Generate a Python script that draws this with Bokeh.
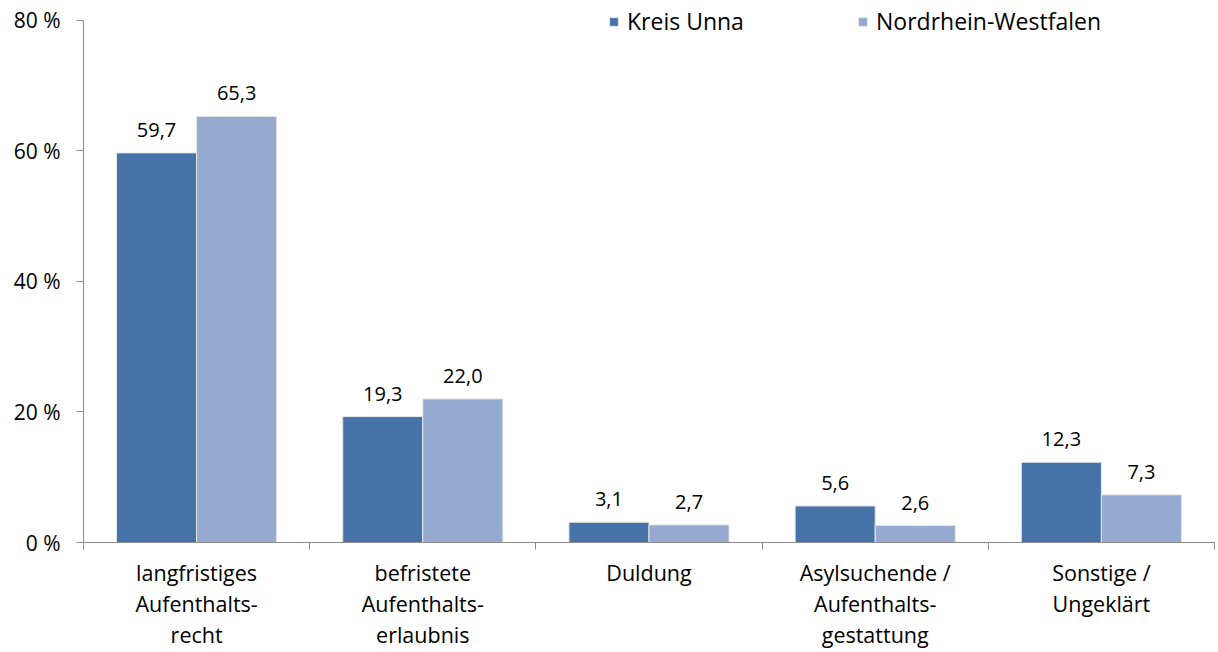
from bokeh.plotting import figure
from bokeh.models import (Range1d, FixedTicker, Legend, LegendItem, ColumnDataSource)
from bokeh.core.properties import value
from bokeh.embed import file_html
from bokeh.resources import INLINE

categories = ["langfristiges\nAufenthalts-\nrecht", "befristete\nAufenthalts-\nerlaubnis",
              "Duldung", "Asylsuchende /\nAufenthalts-\ngestattung", "Sonstige /\nUngeklärt"]
kreis_unna = [59.7, 19.3, 3.1, 5.6, 12.3]
nrw = [65.3, 22.0, 2.7, 2.6, 7.3]
y_ticks = [0, 20, 40, 60, 80]
y_tick_labels = ["0 %", "20 %", "40 %", "60 %", "80 %"]
series_names = ["Kreis Unna", "Nordrhein-Westfalen"]

FONT = "Open Sans"
C1 = "#4673A7"
C2 = "#95A9D1"
AX = "#8c8c8c"

# frame extends slightly above the 80 % tick so the legend is not clipped
p = figure(width=1218, height=652, output_backend="svg", toolbar_location=None,
           x_range=Range1d(0, 5), y_range=Range1d(0, 82.75),
           min_border_left=83, min_border_right=4, min_border_top=2, min_border_bottom=109)
p.outline_line_color = None
p.xgrid.visible = False
p.ygrid.visible = False

bw = 0.354
centers = [i + 0.5 for i in range(len(categories))]
x1 = [c - bw / 2 for c in centers]
x2 = [c + bw / 2 for c in centers]
src1 = ColumnDataSource(dict(x=x1, top=kreis_unna, lab=[f"{v:.1f}".replace(".", ",") for v in kreis_unna]))
src2 = ColumnDataSource(dict(x=x2, top=nrw, lab=[f"{v:.1f}".replace(".", ",") for v in nrw]))

r1 = p.vbar(x="x", top="top", width=bw, source=src1, fill_color=C1, line_color="#e6e6e6", line_width=1)
r2 = p.vbar(x="x", top="top", width=bw, source=src2, fill_color=C2, line_color="#e6e6e6", line_width=1)

for src in (src1, src2):
    p.text(x="x", y="top", text="lab", source=src, text_font=value(FONT), text_font_size="20px",
           text_align="center", text_baseline="middle", y_offset=-23, text_color="#000000")

# axes
xa = p.xaxis[0]
xa.ticker = FixedTicker(ticks=centers, minor_ticks=[0, 1, 2, 3, 4, 5])
xa.major_label_overrides = {c: lab for c, lab in zip(centers, categories)}
xa.major_tick_out = 0
xa.major_tick_in = 0
xa.minor_tick_out = 7
xa.minor_tick_in = 0
xa.minor_tick_line_color = AX
xa.axis_line_color = AX
xa.major_label_standoff = 8
xa.major_label_text_font = FONT
xa.major_label_text_font_size = "21.5px"
xa.major_label_text_line_height = 1.08
xa.major_label_text_color = "#000000"

ya = p.yaxis[0]
ya.ticker = FixedTicker(ticks=y_ticks, minor_ticks=[])
ya.bounds = (0, 80)
ya.major_label_overrides = {t: l for t, l in zip(y_ticks, y_tick_labels)}
ya.major_tick_out = 7
ya.major_tick_in = 0
ya.major_tick_line_color = AX
ya.axis_line_color = AX
ya.major_label_standoff = 16
ya.major_label_text_font = FONT
ya.major_label_text_font_size = "21px"
ya.major_label_text_color = "#000000"

for r, name, vx in ((r1, series_names[0], 525), (r2, series_names[1], 774)):
    lg = Legend(items=[LegendItem(label=name, renderers=[r])], location=(vx, 505),
                padding=0, margin=0, border_line_color=None, background_fill_alpha=0,
                glyph_width=11, glyph_height=11, label_standoff=8,
                label_text_font=FONT, label_text_font_size="23px", label_text_color="#000000")
    p.add_layout(lg, "center")

open("out.html", "w").write(file_html(p, INLINE))
